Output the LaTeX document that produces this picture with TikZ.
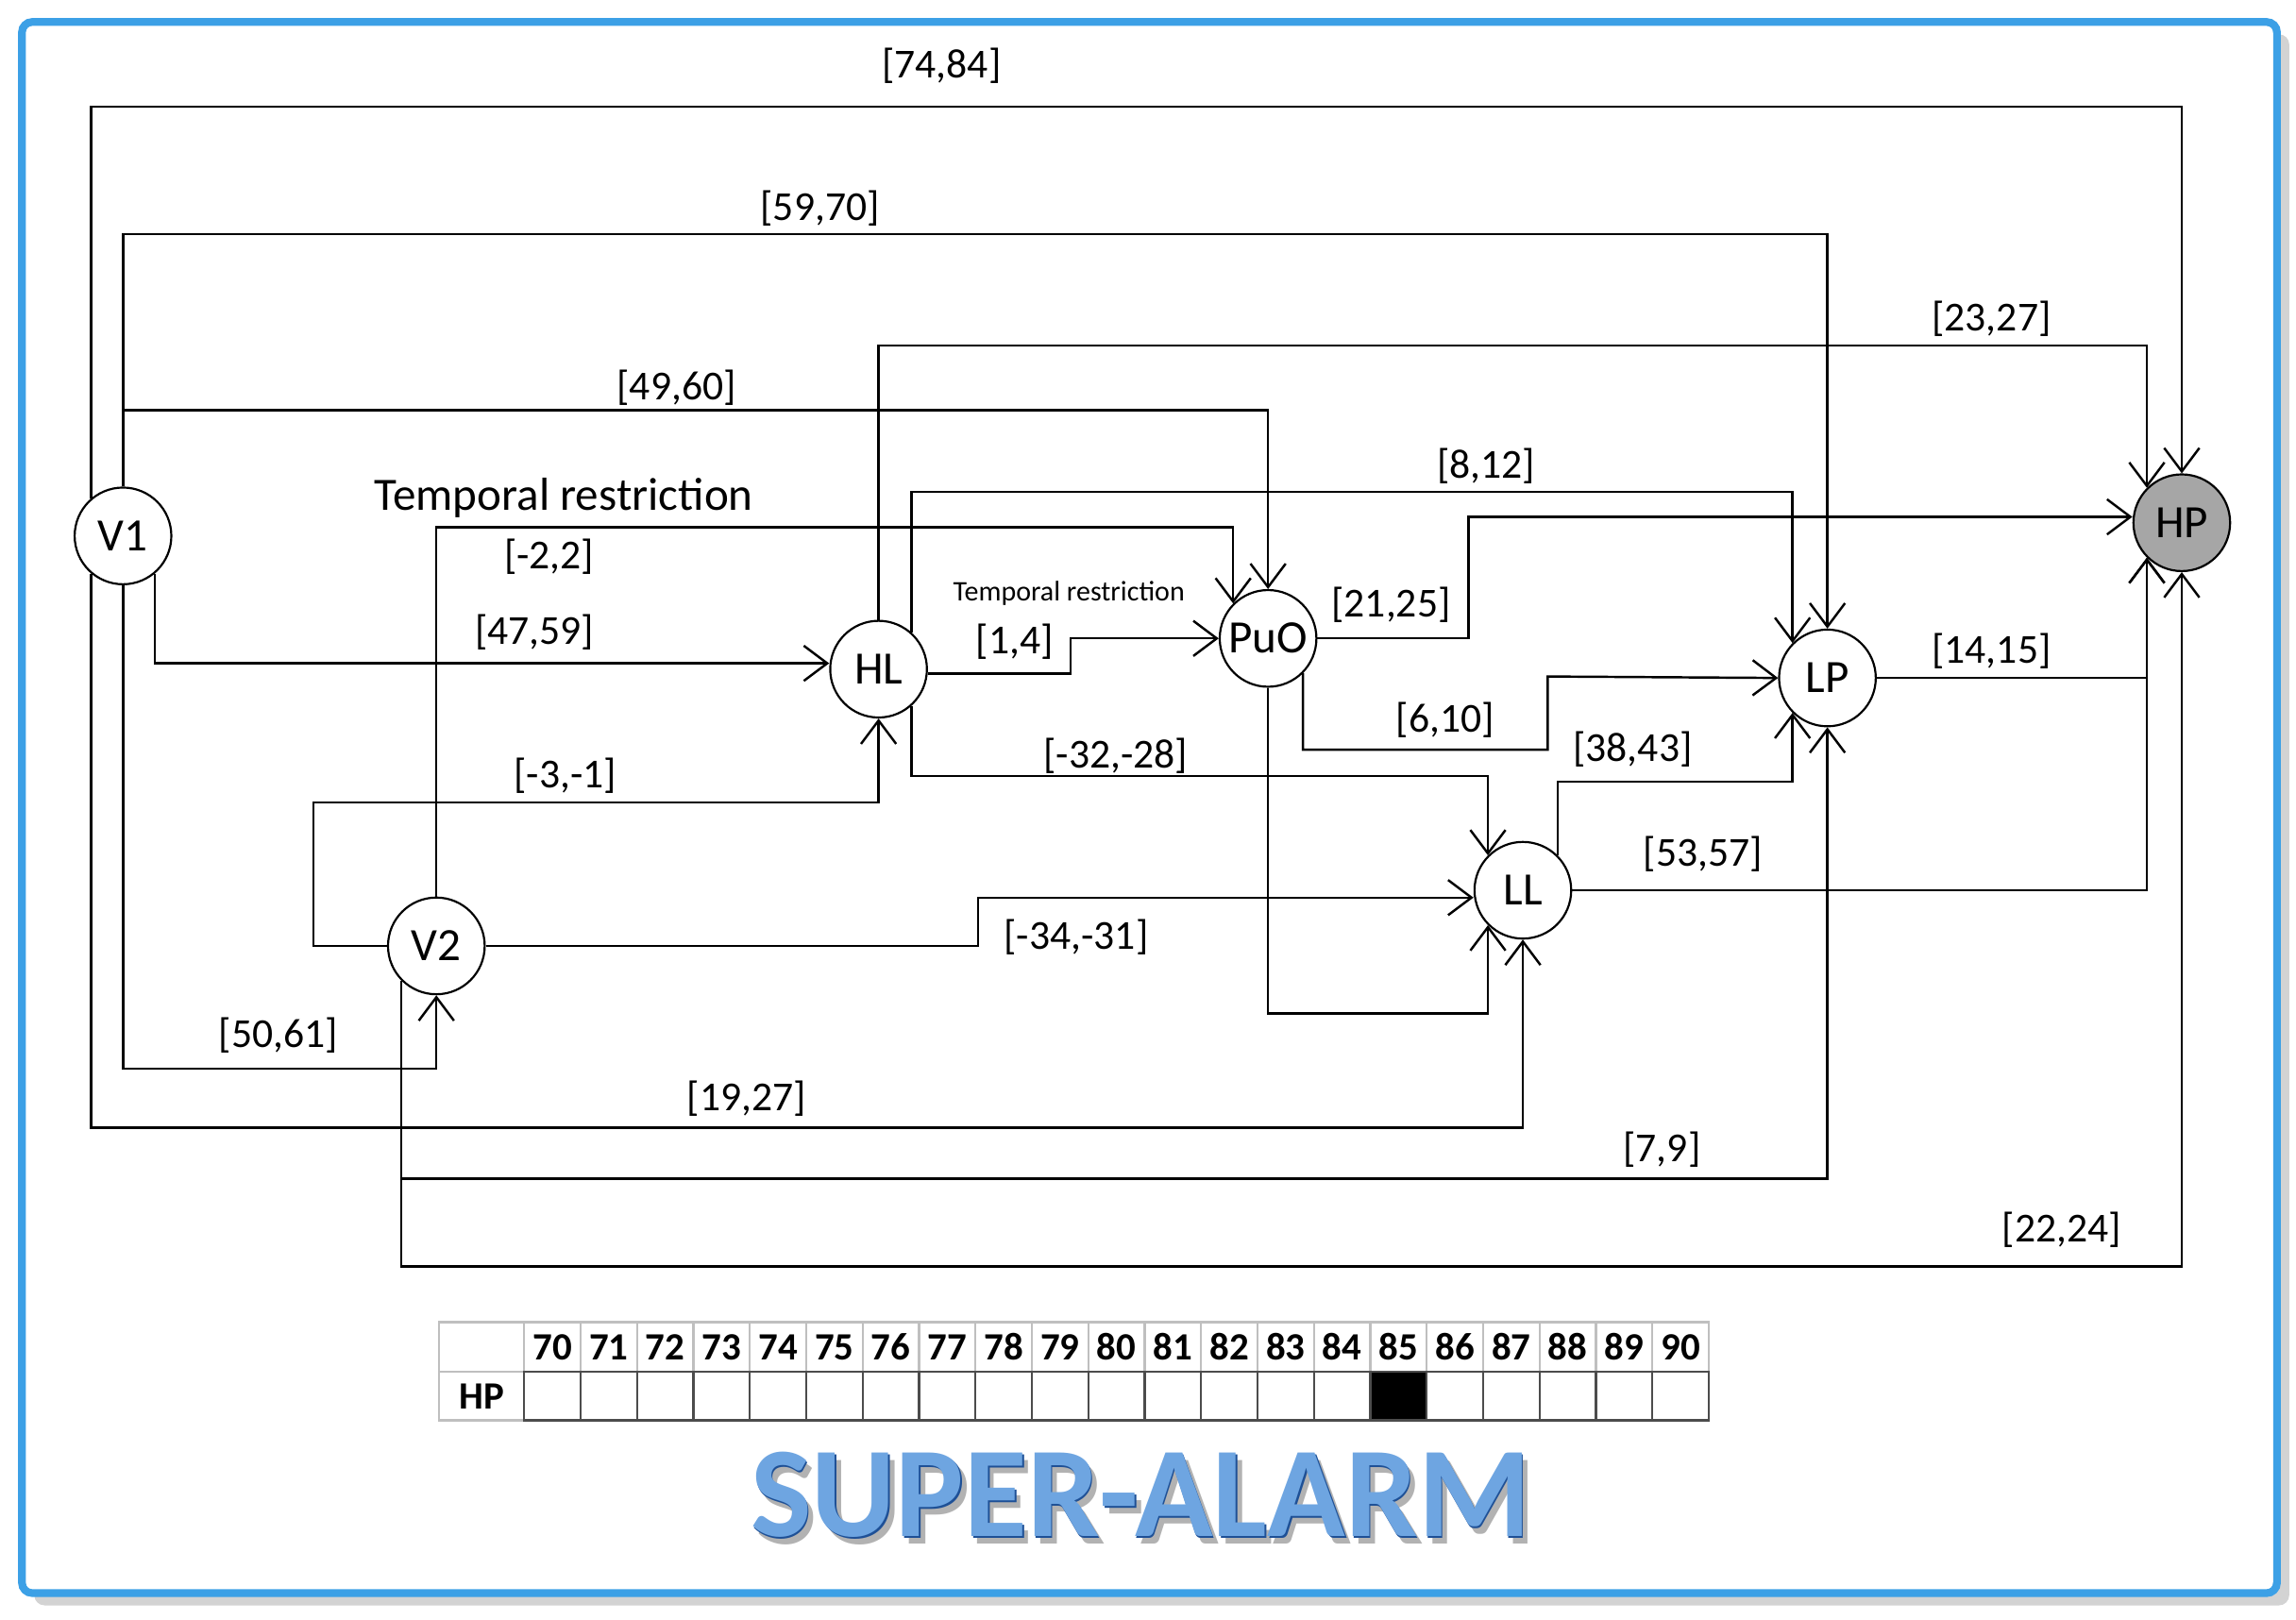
\documentclass[tikz,border=0pt]{standalone}
\usepackage{fontspec}
\setmainfont{Carlito}
\usetikzlibrary{arrows.meta, shadows}
\definecolor{frameblue}{RGB}{60,160,230}
\definecolor{titleblue}{RGB}{110,165,225}
\definecolor{titleedge}{RGB}{30,80,150}

\begin{document}
\begin{tikzpicture}[x=0.01cm, y=-0.01cm]
	\tikzset{state/.style={circle, draw=black, fill=white, minimum size=0.66cm, inner sep=0pt, font=\fontsize{9}{9}\selectfont}}
	\tikzset{arrow/.style={->, >={Straight Barb[length=1.6mm, width=2.4mm]}, line width=0.45pt}}
	\tikzset{lbl/.style={font=\fontsize{8}{8}\selectfont, inner sep=1pt}}
	\tikzset{cell/.style={draw=black!70, line width=0.4pt}}
	\useasboundingbox (0,0) rectangle (1568,1106);
	% frame
	\draw[frameblue, line width=1.5pt, rounded corners=2pt, drop shadow={opacity=0.35}, fill=white] (15,15) rectangle (1555,1088);
	% states
	\node (V1) [state] at (84,366) {V1};
	\node (V2) [state] at (298,646) {V2};
	\node (HL) [state] at (600,457) {HL};
	\node (PuO) [state] at (866,436) {PuO};
	\node (LP) [state] at (1248,463) {LP};
	\node (LL) [state] at (1040,608) {LL};
	\node (HP) [state, fill=black!35] at (1490,357) {HP};
	% connections from V1
	\draw [arrow] (V1.130) -- (V1.130 |- 0,73) -| (HP.north);
	\draw [arrow] (V1.north) -- (V1.north |- 0,160) -| (LP.north);
	\draw [arrow] (V1.north) -- (V1.north |- 0,280) -| (PuO.north);
	\draw [arrow] (V1.-50) -- (V1.-50 |- 0,453) -- (HL.west |- 0,453);
	\draw [arrow] (V1.south) -- (V1.south |- 0,730) -| (V2.south);
	\draw [arrow] (V1.230) -- (V1.230 |- 0,770) -| (LL.south);
	% connections from V2
	\draw [arrow] (V2.north) -- (V2.north |- 0,360) -| (PuO.135);
	\draw [arrow] (V2.west) -| (214,548) -| (HL.south);
	\draw [arrow] (V2.east) -| (668,613) -- (LL.west |- 0,613);
	\draw [arrow] (V2.225) -- (V2.225 |- 0,805) -| (LP.south);
	\draw [arrow] (V2.225) -- (V2.225 |- 0,865) -| (HP.south);
	% connections from HL
	\draw [arrow] (HL.north) -- (HL.north |- 0,236) -| (HP.135);
	\draw [arrow] (HL.48) -- (HL.48 |- 0,336) -| (LP.135);
	\draw [arrow] (HL.-5) -| (731,436) -- (PuO.west);
	\draw [arrow] (HL.-48) -- (HL.-48 |- 0,530) -| (LL.135);
	% connections from PuO
	\draw [arrow] (PuO.east) -| (1003,353) -- (HP.west |- 0,353);
	\draw [arrow] (PuO.-45) -- (PuO.-45 |- 0,512) -| (1057,462) -- (LP.west);
	\draw [arrow] (PuO.south) -- (PuO.south |- 0,692) -| (LL.225);
	% connections from LL and LP
	\draw [arrow] (LL.45) -- (LL.45 |- 0,534) -| (LP.225);
	\draw [arrow] (LL.east) -| (HP.225);
	\draw [arrow] (LP.east) -| (HP.225);
	% labels
	\node (l7484) [lbl] at (643,45) {[74,84]};
	\node (l5970) [lbl] at (560,142) {[59,70]};
	\node (l4960) [lbl] at (462,265) {[49,60]};
	\node (l4759) [lbl] at (365,432) {[47,59]};
	\node (l5061) [lbl] at (190,707) {[50,61]};
	\node (l1927) [lbl] at (510,750) {[19,27]};
	\node (tempA) [lbl, font=\fontsize{9}{9}\selectfont] at (385,340) {Temporal restriction};
	\node (lm22) [lbl] at (375,380) {[-2,2]};
	\node (lm3m1) [lbl] at (386,530) {[-3,-1]};
	\node (lm34) [lbl] at (735,640) {[-34,-31]};
	\node (l79) [lbl] at (1135,785) {[7,9]};
	\node (l2224) [lbl] at (1408,840) {[22,24]};
	\node (l2327) [lbl] at (1360,218) {[23,27]};
	\node (l812) [lbl] at (1015,318) {[8,12]};
	\node (tempB) [lbl, font=\fontsize{5.5}{5.5}\selectfont] at (730,405) {Temporal restriction};
	\node (l14) [lbl] at (693,438) {[1,4]};
	\node (lm32) [lbl] at (762,516) {[-32,-28]};
	\node (l2125) [lbl] at (950,413) {[21,25]};
	\node (l610) [lbl] at (987,492) {[6,10]};
	\node (l3843) [lbl] at (1115,512) {[38,43]};
	\node (l5357) [lbl] at (1163,583) {[53,57]};
	\node (l1415) [lbl] at (1360,445) {[14,15]};
	% timeline table
	\draw[cell, draw=black!25] (300,903) rectangle (358,937);
	\draw[cell, draw=black!25] (300,937) rectangle (358,970);
	\node (rowHP) [font=\bfseries\fontsize{7.5}{7.5}\selectfont] at (329,954) {HP};
	\foreach \n [count=\i from 0] in {70,...,90} {
		\draw[cell, draw=black!25] (358+\i*38.52,903) rectangle (396.52+\i*38.52,937);
		\node (h\n) [font=\bfseries\fontsize{7.5}{7.5}\selectfont] at (377.26+\i*38.52,920) {\n};
		\ifnum\n=85
			\draw[cell, fill=black] (358+\i*38.52,937) rectangle (396.52+\i*38.52,970);
		\else
			\draw[cell] (358+\i*38.52,937) rectangle (396.52+\i*38.52,970);
		\fi
	}
	% title
	\node (titleShade) [font=\bfseries\fontsize{25}{25}\selectfont, text=black!30] at (783,1026) {SUPER-ALARM};
	\node (titleEdge) [font=\bfseries\fontsize{25}{25}\selectfont, text=titleedge] at (780,1022) {SUPER-ALARM};
	\node (title) [font=\bfseries\fontsize{25}{25}\selectfont, text=titleblue] at (779,1021) {SUPER-ALARM};
\end{tikzpicture}
\end{document}
